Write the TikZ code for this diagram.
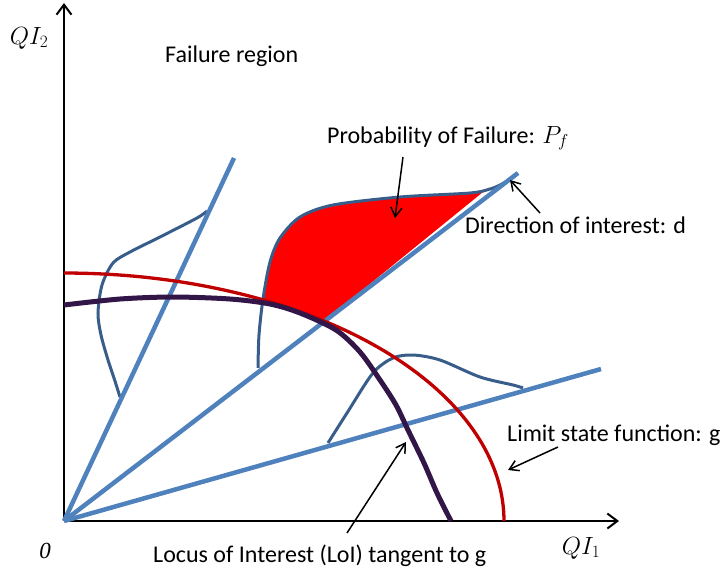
\documentclass[tikz,border=0pt]{standalone}
\usepackage{fontspec}
\setmainfont{Carlito}
\newfontfamily\serifit{Liberation Serif}
\usetikzlibrary{arrows.meta}
\definecolor{lineblue}{RGB}{79,129,189}
\definecolor{bellblue}{RGB}{56,93,138}
\definecolor{gred}{RGB}{192,0,0}
\definecolor{loipurple}{RGB}{50,22,72}
\definecolor{pfred}{RGB}{255,0,0}
\tikzset{
  axis/.style={line width=2pt,-{Straight Barb[length=10pt,width=15pt,line width=2pt]}},
  dirline/.style={line width=4.5pt,lineblue},
  bell/.style={line width=3pt,bellblue},
  limitcurve/.style={line width=3.3pt,gred},
  loicurve/.style={line width=5pt,loipurple},
  pointer/.style={line width=1.5pt,-{Straight Barb[length=9pt,width=11pt,line width=1.5pt]}},
  lbl/.style={inner sep=0pt,anchor=base west,font=\fontsize{24}{28}\selectfont},
  mlbl/.style={inner sep=0pt,font=\fontsize{23}{26}\selectfont}
}
\begin{document}
\begin{tikzpicture}[x=1pt,y=-1pt]
\useasboundingbox (0,0) rectangle (724,574);
% axes
\coordinate (O) at (64,521);
\coordinate (xend) at (619,521);
\coordinate (yend) at (64,3);
\draw[axis] (O) -- (xend);
\draw[axis] (O) -- (yend);
% Pf fill
\fill[pfred] plot[smooth] coordinates {(263,299) (270,262) (280,238) (300,217) (333,205) (400,197) (483,192)}
  -- (323,322)
  -- plot[domain=53.9:63.1,samples=20,variable=\t] ({64+440*cos(\t)},{521-248*sin(\t)}) -- cycle;
% bell curves
\draw[bell] plot[smooth] coordinates {(207,211) (197,218) (160,237) (130,252) (113,263) (102,285) (98,313) (101,335) (108,360) (114,378) (120,397)};
\draw[bell] plot[smooth] coordinates {(258,368) (259,335) (263,299) (270,262) (280,238) (300,217) (333,205) (400,197) (470,193) (490,189) (500,185) (509,180)};
\draw[bell] plot[smooth] coordinates {(328,443) (347,413) (373,373) (393,358) (413,355) (440,360) (480,377) (513,385) (523,388)};
% direction lines
\coordinate (d1) at (234,158);
\coordinate (d2) at (518,173);
\coordinate (d3) at (601,369);
\draw[dirline] (O) -- (d1);
\draw[dirline] (O) -- (d2);
\draw[dirline] (O) -- (d3);
% limit state function
\draw[limitcurve] plot[domain=90:0,samples=80,variable=\t] ({64+440*cos(\t)},{521-248*sin(\t)});
% locus of interest
\draw[loicurve] plot[smooth] coordinates {(64,305) (120,299) (173,297) (230,299) (270,304) (300,313) (336,330) (360,352) (380,380) (396,405) (408,430) (424,463) (437,493) (451,521)};
% labels
\node[mlbl] (qi2) at (29,38) {$QI_2$};
\node[mlbl] (qi1) at (581,548) {$QI_1$};
\node[inner sep=0pt,font=\fontsize{23}{25}\selectfont\serifit\itshape] (zero) at (45,551) {0};
\node[lbl] (fail) at (165,62) {Failure region};
\node[lbl] (pf) at (327,143) {Probability of Failure: $P_f$};
\node[lbl] (dir) at (465,233) {Direction of interest: d};
\node[lbl] (lsf) at (507,441) {Limit state function: g};
\node[lbl] (loi) at (153,562) {Locus of Interest (LoI) tangent to g};
% pointers
\coordinate (pfa) at (403,157);
\coordinate (pfb) at (395,218);
\coordinate (dira) at (540,213);
\coordinate (dirb) at (510,180);
\coordinate (lsfa) at (558,447);
\coordinate (lsfb) at (508,470);
\coordinate (loia) at (347,533);
\coordinate (loib) at (406,442);
\draw[pointer] (pfa) -- (pfb);
\draw[pointer] (dira) -- (dirb);
\draw[pointer] (lsfa) -- (lsfb);
\draw[pointer] (loia) -- (loib);
\end{tikzpicture}
\end{document}
